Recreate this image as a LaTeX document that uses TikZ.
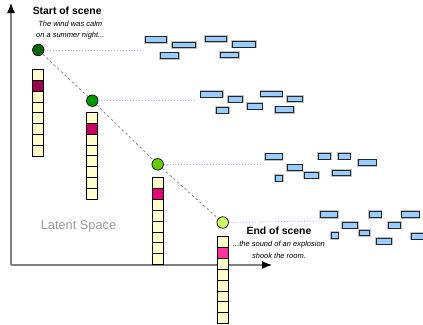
\documentclass[tikz,border=0pt]{standalone}
\usepackage{fontspec}
\setmainfont{Liberation Sans}
\usetikzlibrary{arrows.meta}
\definecolor{cellyellow}{HTML}{FFFFCC}
\definecolor{hotA}{HTML}{99004D}
\definecolor{hotB}{HTML}{CC0066}
\definecolor{hotC}{HTML}{E6007A}
\definecolor{hotD}{HTML}{FF3399}
\definecolor{greenA}{HTML}{006600}
\definecolor{greenB}{HTML}{009900}
\definecolor{greenC}{HTML}{66CC00}
\definecolor{greenD}{HTML}{CCFF66}
\definecolor{blockblue}{HTML}{99CCFF}
\definecolor{traceviolet}{HTML}{CC99FF}
\definecolor{axisgray}{HTML}{808080}

\begin{document}
\begin{tikzpicture}[x=1pt,y=-1pt,
  cell/.style={draw=black,line width=0.7pt,fill=cellyellow},
  dot/.style={circle,draw=black,line width=0.7pt,minimum size=11.5pt,inner sep=0pt},
  blk/.style={draw=black!85,line width=0.8pt,fill=blockblue,preaction={draw=black!25,line width=2.4pt}},
  axisline/.style={draw=axisgray,line width=1.2pt,-{Latex[length=10pt,width=8pt,color=black]}},
  trace/.style={draw=traceviolet,dotted,line width=0.9pt},
  path/.style={draw=gray,dashed,dash pattern=on 2.5pt off 2.5pt,line width=0.7pt},
  title/.style={font=\fontsize{10.4}{12}\selectfont\bfseries,anchor=base,inner sep=0pt},
  quote/.style={font=\fontsize{7.5}{11.5}\selectfont\itshape,align=center,anchor=base,inner sep=0pt}]
\useasboundingbox (0,0) rectangle (423,324);

\coordinate (origin) at (11,265);
\coordinate (ytip) at (11,3);
\coordinate (xtip) at (272,265);
\draw[axisline] (origin) -- (ytip);
\draw[axisline] (origin) -- (xtip);
\node[text=axisgray!80,font=\fontsize{12.8}{14}\selectfont] (latent) at (78.5,226) {Latent Space};

\foreach \x/\y/\hot in {32.7/69.3/hotA,86.7/112.3/hotB,152/177.7/hotC,217.3/236.7/hotD} {
\begin{scope}[shift={(\x,\y)}]
\foreach \k in {0,...,7} {
\draw[cell] (0,\k*10.85) rectangle ++(11,10.85);
}
\draw[cell,fill=\hot] (0,10.85) rectangle ++(11,10.85);
\end{scope}
}

\coordinate (e1) at (141,50);
\coordinate (e2) at (195,100.7);
\coordinate (e3) at (260,164.3);
\coordinate (e4) at (325,221);
\node[dot,fill=greenA] (s1) at (38.3,50) {};
\node[dot,fill=greenB] (s2) at (92.3,100.7) {};
\node[dot,fill=greenC] (s3) at (157.7,164.3) {};
\node[dot,fill=greenD] (s4) at (222.7,222.5) {};
\draw[path] (s1) -- (s2) -- (s3) -- (s4);
\draw[trace] (s1) -- (e1);
\draw[trace] (s2) -- (e2);
\draw[trace] (s3) -- (e3);
\draw[trace] (s4) -- (e4);

\foreach \x/\y/\w in {145.3/36.7/21.4,172/42/23.7,160.3/52.7/18.4,205.3/36/21.4,232/41.3/23.7,220.3/52/18,
200.7/91.3/21.6,228/96.3/14.3,216/107.3/12.3,260.7/91/21.3,247.3/103.3/14.7,275.3/106.7/18,287.3/96/15,
265/153.7/17,287/164.8/15,275.3/175.3/7.4,304/172.3/14.7,318.3/153.3/12,338.3/153.3/11.7,332/170/18.3,358.3/159.8/17.7,
320.5/211.5/17.2,342.5/222.3/14.8,331.2/232.5/6.8,359.3/230/10.5,369.3/211.5/11.7,388.5/222.3/12,376.3/238.2/15.5,401.7/211.5/17.3,411.5/233.3/18} {
\draw[blk] (\x,\y) rectangle ++(\w,5.8);
}

\node[title] (starttitle) at (67.2,14) {Start of scene};
\node[quote] (starttext) at (70.3,37.5) {The wind was calm\\on a summer night...};
\node[title] (endtitle) at (279,234.3) {End of scene};
\node[quote] (endtext) at (279,258) {...the sound of an explosion\\shook the room.};
\end{tikzpicture}
\end{document}
